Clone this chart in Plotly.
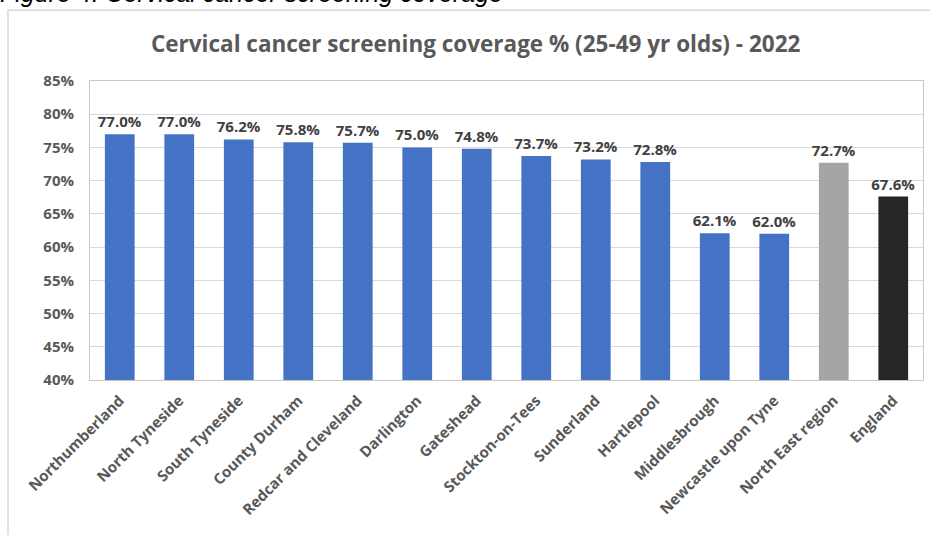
import plotly.graph_objects as go

areas = ["Northumberland", "North Tyneside", "South Tyneside", "County Durham",
         "Redcar and Cleveland", "Darlington", "Gateshead", "Stockton-on-Tees",
         "Sunderland", "Hartlepool", "Middlesbrough", "Newcastle upon Tyne",
         "North East region", "England"]
coverage = [77.0, 77.0, 76.2, 75.8, 75.7, 75.0, 74.8, 73.7, 73.2, 72.8, 62.1, 62.0, 72.7, 67.6]
bar_colors = ["#4472C4"] * 12 + ["#A5A5A5", "#262626"]

fig = go.Figure(go.Bar(
    x=areas,
    y=coverage,
    marker=dict(color=bar_colors, line=dict(width=0)),
    text=[f"{v:.1f}%" for v in coverage],
    textposition="outside",
    constraintext="none",
    textfont=dict(family="Open Sans", size=15, color="#404040", weight="bold"),
    cliponaxis=False,
))

# cadre du graphique et légende de la figure (partiellement coupée)
fig.add_shape(type="rect", xref="paper", yref="paper",
              x0=-0.0984, x1=1.05, y0=-0.7, y1=1.237,
              line=dict(color="#D9D9D9", width=1.5), layer="below")
fig.add_annotation(text="<i>Figure 4: Cervical cancer screening coverage</i>",
                   xref="paper", yref="paper", x=-0.110, y=1.293,
                   xanchor="left", yanchor="middle", showarrow=False,
                   font=dict(family="Liberation Sans", size=25, color="#000000"))

fig.update_layout(
    width=930, height=535,
    margin=dict(l=90, r=7, t=81, b=155, autoexpand=False),
    paper_bgcolor="white", plot_bgcolor="white",
    title=dict(text="Cervical cancer screening coverage % (25-49 yr olds) - 2022",
               xref="paper", x=0.463, xanchor="center", y=0.918, yanchor="middle",
               font=dict(family="Open Sans", size=22.5, color="#595959", weight="bold")),
    bargap=0.5,
    showlegend=False,
    font=dict(family="Open Sans"),
)
fig.update_yaxes(range=[40, 85], dtick=5, ticksuffix="%",
                 gridcolor="#D9D9D9", gridwidth=1,
                 showline=True, linecolor="#C8C8C8", mirror=True,
                 tickfont=dict(size=15, color="#595959", weight="bold"),
                 zeroline=False, ticks="outside", ticklen=12,
                 tickcolor="rgba(0,0,0,0)", automargin=False)
fig.update_xaxes(tickangle=-45, showline=True, linecolor="#C8C8C8", mirror=True,
                 tickfont=dict(size=15, color="#595959", weight="bold"),
                 ticks="outside", ticklen=5, tickcolor="rgba(0,0,0,0)",
                 automargin=False)

fig.write_html("out.html",
               config={"displayModeBar": False},
               post_script="document.body.style.margin='0';"
                           "document.body.style.overflow='hidden';")
